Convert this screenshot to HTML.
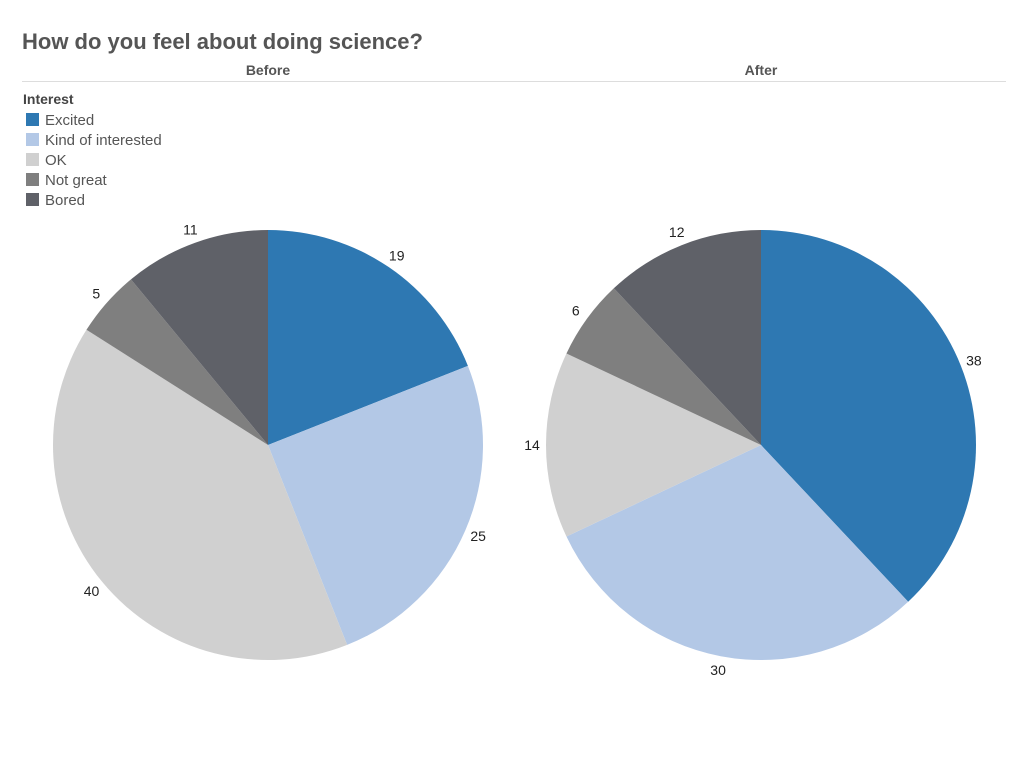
<!DOCTYPE html>
<html><head><meta charset="utf-8"><style>
body{margin:0;background:#fff;font-family:"Liberation Sans",sans-serif;}
#wrap{position:relative;width:1024px;height:768px;overflow:hidden;}
text{font-family:"Liberation Sans",sans-serif;}
</style></head><body>
<div id="wrap">
<svg id="svg" width="1024" height="768">
<text x="22" y="49" font-size="22" font-weight="bold" fill="#555">How do you feel about doing science?</text>
<text x="268" y="75" font-size="14" font-weight="bold" fill="#555" text-anchor="middle">Before</text>
<text x="761" y="75" font-size="14" font-weight="bold" fill="#555" text-anchor="middle">After</text>
<line x1="22" y1="81.5" x2="1006" y2="81.5" stroke="#ddd"/>
<text x="23" y="104" font-size="14" font-weight="bold" fill="#444">Interest</text>
<g id="legend"></g>
<g id="pies"></g>
</svg>
</div>
<script>
const categories=["Excited","Kind of interested","OK","Not great","Bored"];
const beforeValues=[19,25,40,5,11];
const afterValues=[38,30,14,6,12];
const colors=["#2e78b2","#b3c8e6","#d0d0d0","#7f7f7f","#5f6168"];
const NS="http://www.w3.org/2000/svg";
const leg=document.getElementById('legend');
categories.forEach((c,i)=>{
  const y=113+i*20;
  const r=document.createElementNS(NS,'rect');
  r.setAttribute('x',26);r.setAttribute('y',y);r.setAttribute('width',13);r.setAttribute('height',13);r.setAttribute('fill',colors[i]);
  
  
  leg.appendChild(r);
  const t=document.createElementNS(NS,'text');
  t.setAttribute('x',45);t.setAttribute('y',y+12);t.setAttribute('font-size',15);t.setAttribute('fill','#555');
  t.textContent=c;
  
  
  leg.appendChild(t);
});
function pie(vals,cx,cy,R,name){
  const g=document.getElementById('pies');
  const tot=vals.reduce((a,b)=>a+b,0);
  let a0=0;
  vals.forEach((v,i)=>{
    const a1=a0+v/tot*2*Math.PI;
    const x0=cx+R*Math.sin(a0),y0=cy-R*Math.cos(a0),x1=cx+R*Math.sin(a1),y1=cy-R*Math.cos(a1);
    const p=document.createElementNS(NS,'path');
    p.setAttribute('d',`M${cx},${cy}L${x0},${y0}A${R},${R} 0 ${a1-a0>Math.PI?1:0} 1 ${x1},${y1}Z`);
    p.setAttribute('fill',colors[i]);
    
    
    g.appendChild(p);
    const am=(a0+a1)/2,lr=R+14;
    const t=document.createElementNS(NS,'text');
    t.setAttribute('x',cx+lr*Math.sin(am));t.setAttribute('y',cy-lr*Math.cos(am)+5);
    t.setAttribute('font-size',14);t.setAttribute('fill','#222');t.setAttribute('text-anchor','middle');
    t.textContent=v;
    
    
    g.appendChild(t);
    a0=a1;
  });
}
pie(beforeValues,268,445,215,'before');
pie(afterValues,761,445,215,'after');
</script>
</body></html>
